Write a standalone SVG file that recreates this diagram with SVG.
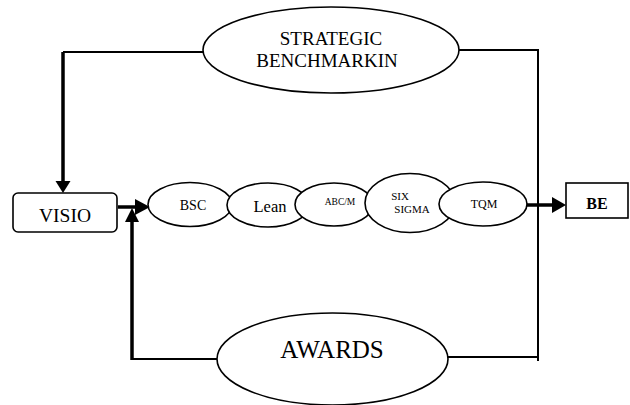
<svg xmlns="http://www.w3.org/2000/svg" width="630" height="405" viewBox="0 0 630 405">
<style>
.sh{fill:#fff;stroke:#000;stroke-width:1.6}
.t{font-family:"Liberation Serif","Times New Roman",serif;fill:#000;text-anchor:middle}
.ln{fill:none;stroke:#000;stroke-width:2}
.th{fill:none;stroke:#000;stroke-width:3.5}
</style>
<rect width="630" height="405" fill="#fff"/>
<g id="connectors">
<polyline class="ln" points="203,52 63,52"/>
<line class="th" x1="63" y1="52" x2="63" y2="182"/>
<polygon points="55.5,181 70.5,181 63,193"/>
<polyline class="ln" points="459,50 538,50 538,361"/>
<polyline class="ln" points="448,357 538,357"/>
<polyline class="ln" points="217,359 132,359"/>
<line class="th" x1="132" y1="360" x2="132" y2="221"/>
<polygon points="125,222 139,222 132,208"/>
<line class="th" x1="118" y1="207" x2="136" y2="207"/>
<polygon points="135,199 135,215 150,207"/>
<line class="th" x1="527" y1="205" x2="553" y2="205"/>
<polygon points="552,197 552,213 566,205"/>
</g>
<g id="strategic">
<ellipse class="sh" cx="331" cy="50" rx="128" ry="43"/>
<text class="t" x="331" y="45" font-size="19">STRATEGIC</text>
<text class="t" x="327" y="67" font-size="19">BENCHMARKIN</text>
</g>
<g id="visio">
<rect class="sh" x="13" y="193" width="104" height="39" rx="5"/>
<text class="t" x="65" y="222" font-size="19.5">VISIO</text>
</g>
<g id="bsc">
<ellipse class="sh" cx="190" cy="204.5" rx="42" ry="22"/>
<text class="t" x="193" y="210" font-size="14">BSC</text>
</g>
<g id="lean">
<ellipse class="sh" cx="268" cy="205" rx="41" ry="22"/>
<text class="t" x="270" y="212" font-size="16.5">Lean</text>
</g>
<g id="abcm">
<ellipse class="sh" cx="334" cy="204.5" rx="39" ry="21.5"/>
<text class="t" x="340" y="205" font-size="9.5">ABC/M</text>
</g>
<g id="sixsigma">
<ellipse class="sh" cx="410" cy="203" rx="45" ry="29.5"/>
<text class="t" x="400" y="200" font-size="11">SIX</text>
<text class="t" x="412" y="213" font-size="11">SIGMA</text>
</g>
<g id="tqm">
<ellipse class="sh" cx="483" cy="204" rx="44" ry="22"/>
<text class="t" x="484" y="208" font-size="12">TQM</text>
</g>
<g id="be">
<rect class="sh" x="566" y="183" width="62" height="35"/>
<text class="t" x="597" y="209" font-size="16" font-weight="bold">BE</text>
</g>
<g id="awards">
<ellipse class="sh" cx="332.5" cy="359" rx="115.5" ry="46"/>
<text class="t" x="332" y="358" font-size="25">AWARDS</text>
</g>
</svg>
